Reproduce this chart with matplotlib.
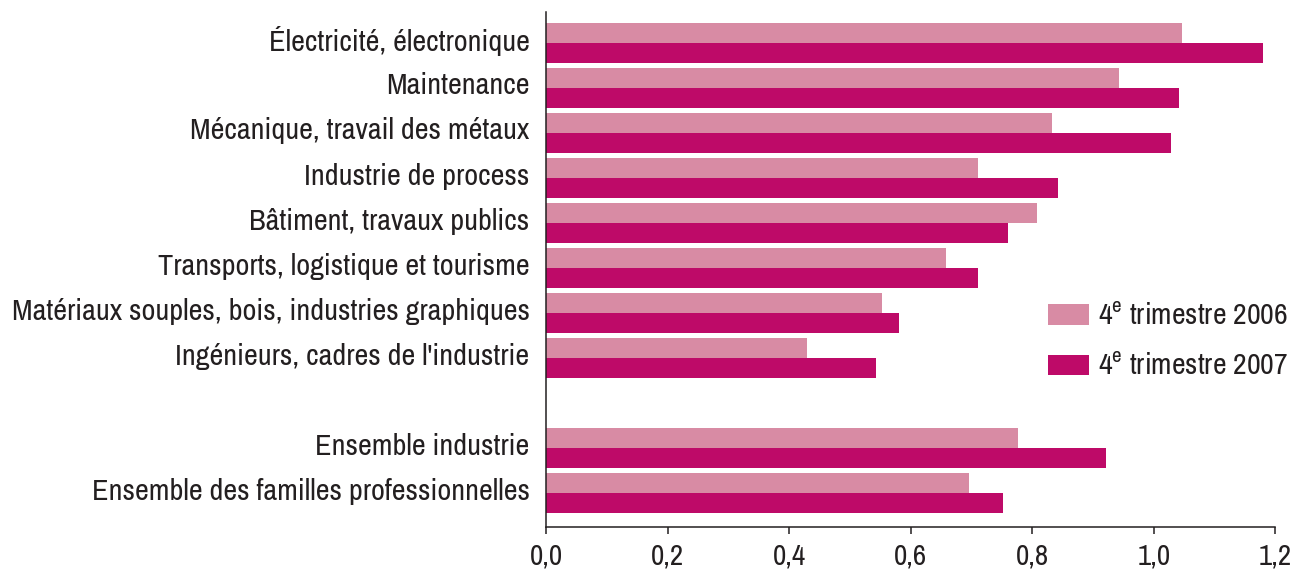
# Horizontal grouped bars: 4e trimestre 2006 vs 2007 by professional family

import matplotlib.pyplot as plt
import numpy

plt.rcParams['font.family'] = ['Archivo Narrow', 'DejaVu Sans']
plt.rcParams['mathtext.fontset'] = 'custom'
plt.rcParams['mathtext.rm'] = 'Archivo Narrow'

categories = [
    'Électricité, électronique',
    'Maintenance',
    'Mécanique, travail des métaux',
    'Industrie de process',
    'Bâtiment, travaux publics',
    'Transports, logistique et tourisme',
    'Matériaux souples, bois, industries graphiques',
    "Ingénieurs, cadres de l'industrie",
    'Ensemble industrie',
    'Ensemble des familles professionnelles',
]
values_2006 = [1.046, 0.943, 0.832, 0.710, 0.808, 0.658, 0.552, 0.430, 0.776, 0.696]
values_2007 = [1.180, 1.041, 1.028, 0.842, 0.760, 0.710, 0.580, 0.542, 0.921, 0.752]
series_labels = ['4$^{\\mathrm{e}}$ trimestre 2006', '4$^{\\mathrm{e}}$ trimestre 2007']
x_ticks = [0.0, 0.2, 0.4, 0.6, 0.8, 1.0, 1.2]
x_tick_labels = ['0,0', '0,2', '0,4', '0,6', '0,8', '1,0', '1,2']

light_pink = '#D88BA4'
dark_pink = '#BE0A68'
ink = '#231F20'

# one empty slot between the families and the two totals
positions = numpy.array([0, 1, 2, 3, 4, 5, 6, 7, 9, 10], dtype=float)
bar_height = 0.444

fig = plt.figure(figsize=(12.96, 5.71), dpi=100)
axes = fig.add_axes([0.4215, 0.077, 0.984 - 0.4215, 0.979 - 0.077])

axes.barh(positions - bar_height / 2, values_2006, height=bar_height,
          color=light_pink, label=series_labels[0])
axes.barh(positions + bar_height / 2, values_2007, height=bar_height,
          color=dark_pink, label=series_labels[1])

axes.set_xlim(0, 1.2)
axes.set_ylim(10.756, -0.689)

axes.set_yticks(positions - 0.1)
axes.set_yticklabels(categories, fontsize=21.8, color=ink)
axes.tick_params(axis='y', length=0, pad=12)

axes.set_xticks(x_ticks)
axes.set_xticklabels(x_tick_labels, fontsize=21, color=ink)
axes.tick_params(axis='x', length=5, width=1.1, color=ink, pad=6)

for side in ['top', 'right']:
    axes.spines[side].set_visible(False)
for side in ['left', 'bottom']:
    axes.spines[side].set_color(ink)
    axes.spines[side].set_linewidth(1.1)

axes.legend(loc='center left', bbox_to_anchor=(0.672, 0.36), frameon=False,
            borderaxespad=0, fontsize=21.5, handlelength=1.37, handleheight=0.67,
            handletextpad=0.3, labelspacing=0.77, labelcolor=ink)

plt.savefig('out.png', dpi=100)
